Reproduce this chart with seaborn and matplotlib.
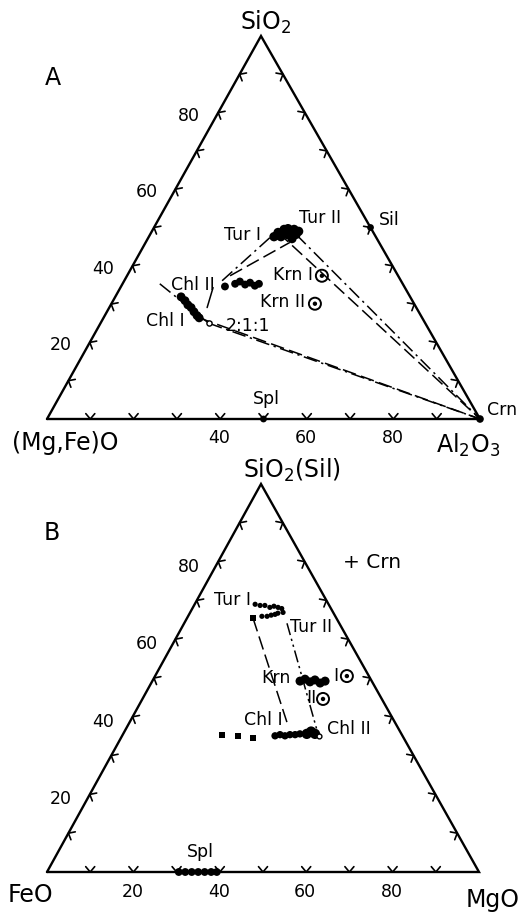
import numpy as np
import matplotlib
matplotlib.use("Agg")
import matplotlib.pyplot as plt
import seaborn as sns

sns.set_theme(style="white")
plt.rcParams['font.family'] = ['DejaVu Sans']
plt.rcParams['mathtext.fontset'] = 'dejavusans'

# ---------------- Diagram A : SiO2 - (Mg,Fe)O - Al2O3 (values: SiO2 %, Al2O3 %)
turA1_si = [47.6, 48.7, 47.6, 49.5, 48.2, 48.0]
turA1_al = [28.9, 29.3, 30.5, 30.3, 31.6, 29.8]
turA2_si = [49.7, 48.7, 49.5, 48.2, 47.1, 49.0]
turA2_al = [31.1, 32.3, 32.6, 33.7, 33.3, 33.9]
chlA2_si = [34.6, 35.3, 35.9, 35.1, 35.6, 34.8, 35.3]
chlA2_al = [24.0, 26.0, 26.8, 28.4, 29.3, 30.8, 31.5]
chlA1_si = [31.9, 30.9, 29.8, 29.1, 28.0, 27.0, 26.4]
chlA1_al = [15.2, 16.6, 17.8, 18.9, 20.1, 21.3, 22.1]
krnA_si = [37.4, 30.1]
krnA_al = [45.0, 47.0]
r211_si, r211_al = [25.0], [25.0]
sil_si, sil_al = [50.0], [50.0]
splA_si, splA_al = [0.0], [50.0]
crn_si, crn_al = [0.0], [100.0]
# tie lines A
tiesA_from_si = [48.2, 48.7, 36.1, 37.4, 26.4, 25.0, 35.3, 34.3]
tiesA_from_al = [33.7, 29.3, 22.6, 23.8, 22.1, 25.0, 8.6, 21.4]
tiesA_to_si = [0.0, 0.0, 47.4, 46.1, 0.0, 0.0, 25.0, 29.1]
tiesA_to_al = [100.0, 100.0, 28.1, 33.3, 100.0, 100.0, 25.0, 22.6]
tiesA_style = ['dashdot', 'dash', 'dashdot', 'dash', 'dash', 'dashdot', 'dashdot', 'solid']

# ---------------- Diagram B : SiO2 - FeO - MgO (values: SiO2 %, MgO %)
turB1_si = [69.0, 68.7, 68.7, 68.2, 68.5, 68.2, 67.9]
turB1_mg = [14.0, 15.3, 16.4, 17.8, 18.6, 19.7, 20.7]
turB2_si = [65.9, 65.9, 66.2, 66.4, 66.7, 66.9]
turB2_mg = [17.1, 18.3, 19.1, 19.9, 20.4, 21.5]
turB_sq_si, turB_sq_mg = [65.4], [15.3]
krnB_si = [49.2, 49.7, 49.0, 49.5, 48.7, 49.2]
krnB_mg = [34.2, 35.1, 36.6, 37.5, 39.1, 40.0]
krnB_circ_si = [50.5, 44.6]
krnB_circ_mg = [44.4, 41.8]
chlB_sq_si = [35.4, 35.1, 34.6]
chlB_sq_mg = [23.0, 26.8, 30.5]
chlB1_si = [35.1, 35.4, 35.1, 35.4, 35.4, 35.6]
chlB1_mg = [35.4, 36.4, 37.7, 38.7, 39.9, 40.9]
chlB2_si = [35.6, 36.2, 35.6]
chlB2_mg = [42.5, 43.2, 44.4]
chlB_open_si, chlB_open_mg = [35.1], [45.6]
splB_si = [0, 0, 0, 0, 0, 0, 0]
splB_mg = [30.5, 32.0, 33.5, 35.0, 36.5, 38.0, 39.3]
tiesB_from_si = [65.4, 64.1]
tiesB_from_mg = [15.3, 23.8]
tiesB_to_si = [38.5, 36.4]
tiesB_to_mg = [36.5, 44.5]
tiesB_style = ['dash', 'dashdotdot']

left_labels = [20, 40, 60, 80]
bottomA_labels = [40, 60, 80]
bottomB_labels = [20, 40, 60, 80]

# ---------------- layout (pixel frame)
LA, RA, TA = (47, 419), (480, 419), (261, 36)
LB, RB, TB = (47, 872), (479, 872), (261, 484)

fig = plt.figure(figsize=(5.21, 9.13), dpi=100)
ax = fig.add_axes([0, 0, 1, 1])
ax.set_xlim(0, 521)
ax.set_ylim(913, 0)
ax.axis('off')


def tern(top, right, L, R, T):
    t = np.asarray(top, float) / 100.0
    r = np.asarray(right, float) / 100.0
    x = L[0] + r * (R[0] - L[0]) + t * (T[0] - L[0])
    y = L[1] + r * (R[1] - L[1]) + t * (T[1] - L[1])
    return x, y


styles = {'solid': '-', 'dash': (0, (9, 3.5)), 'dashdot': (0, (9, 3, 1.5, 3)),
          'dashdotdot': (0, (8, 2.5, 1.5, 2.5, 1.5, 2.5))}


def frame(L, R, T):
    xs = [L[0], R[0], T[0], L[0]]
    ys = [L[1], R[1], T[1], L[1]]
    ax.plot(xs, ys, color='black', lw=1.7, solid_joinstyle='miter', zorder=3)
    for P0, P1, other in [(L, R, T), (R, T, L), (T, L, R)]:
        P0 = np.array(P0, float); P1 = np.array(P1, float); O = np.array(other, float)
        tvec = (P1 - P0) / np.linalg.norm(P1 - P0)
        n = np.array([-tvec[1], tvec[0]])
        if np.dot(O - P0, n) < 0:
            n = -n
        a = np.deg2rad(40); ln = 7.0
        for f in np.arange(1, 10) / 10:
            p = P0 + f * (P1 - P0)
            a1 = p + ln * (np.cos(a) * n + np.sin(a) * tvec)
            a2 = p + ln * (np.cos(a) * n - np.sin(a) * tvec)
            ax.plot([a1[0], p[0], a2[0]], [a1[1], p[1], a2[1]], color='black', lw=1.2, zorder=3)


def pts(top, right, L, R, T, s=14, marker='o', fc='black', ec='none', lw=0.0, z=5):
    x, y = tern(top, right, L, R, T)
    sns.scatterplot(x=x, y=y, ax=ax, s=s, marker=marker, color=fc if fc != 'none' else 'black',
                    facecolor=fc, edgecolor=ec, linewidth=lw, legend=False, zorder=z)


def ties(fs, fr, ts, tr, st, L, R, T):
    for a, b, c, d, s in zip(fs, fr, ts, tr, st):
        x, y = tern([a, c], [b, d], L, R, T)
        ax.plot(x, y, color='black', lw=1.1, linestyle=styles[s], zorder=2)


def txt(x, y, s, size=12.5, ha='center', va='center'):
    ax.text(x, y, s, fontsize=size, ha=ha, va=va, color='black', zorder=6)


# ---------------- Diagram A
frame(LA, RA, TA)
ties(tiesA_from_si, tiesA_from_al, tiesA_to_si, tiesA_to_al, tiesA_style, LA, RA, TA)
pts(turA1_si, turA1_al, LA, RA, TA, s=45)
pts(turA2_si, turA2_al, LA, RA, TA, s=45)
pts(chlA2_si, chlA2_al, LA, RA, TA, s=32)
pts(chlA1_si, chlA1_al, LA, RA, TA, s=40)
pts(krnA_si, krnA_al, LA, RA, TA, s=75, fc='none', ec='black', lw=1.4)
pts(krnA_si, krnA_al, LA, RA, TA, s=10)
pts(r211_si, r211_al, LA, RA, TA, s=14, fc='white', ec='black', lw=1.0)
pts(sil_si, sil_al, LA, RA, TA, s=24)
pts(splA_si, splA_al, LA, RA, TA, s=24)
pts(crn_si, crn_al, LA, RA, TA, s=30)

for v in left_labels:
    x, y = tern([v], [0], LA, RA, TA)
    txt(x[0] - 29, y[0] + 3, str(v))
for v in bottomA_labels:
    x, y = tern([0], [v], LA, RA, TA)
    txt(x[0] - 1, y[0] + 19, str(v))

txt(266, 22, r'SiO$_2$', size=17)
txt(53, 78, 'A', size=17)
txt(65, 443, '(Mg,Fe)O', size=17)
txt(468, 445, r'Al$_2$O$_3$', size=17)
txt(487, 410, 'Crn', size=12.5, ha='left')
txt(266, 399, 'Spl', size=12.5)
txt(379, 220, 'Sil', size=12.5, ha='left')
txt(243, 235, 'Tur I')
txt(320, 218, 'Tur II')
txt(293, 275, 'Krn I')
txt(283, 302, 'Krn II')
txt(193, 285, 'Chl II')
txt(165, 321, 'Chl I')
txt(248, 326, '2:1:1')

# ---------------- Diagram B
frame(LB, RB, TB)
ties(tiesB_from_si, tiesB_from_mg, tiesB_to_si, tiesB_to_mg, tiesB_style, LB, RB, TB)
pts(turB1_si, turB1_mg, LB, RB, TB, s=14)
pts(turB2_si, turB2_mg, LB, RB, TB, s=14)
pts(turB_sq_si, turB_sq_mg, LB, RB, TB, s=20, marker='s')
pts(krnB_si, krnB_mg, LB, RB, TB, s=42)
pts(krnB_circ_si, krnB_circ_mg, LB, RB, TB, s=75, fc='none', ec='black', lw=1.4)
pts(krnB_circ_si, krnB_circ_mg, LB, RB, TB, s=10)
pts(chlB_sq_si, chlB_sq_mg, LB, RB, TB, s=18, marker='s')
pts(chlB1_si, chlB1_mg, LB, RB, TB, s=28)
pts(chlB2_si, chlB2_mg, LB, RB, TB, s=55)
pts(chlB_open_si, chlB_open_mg, LB, RB, TB, s=12, fc='white', ec='black', lw=1.0)
pts(splB_si, splB_mg, LB, RB, TB, s=32)

for v in left_labels:
    x, y = tern([v], [0], LB, RB, TB)
    txt(x[0] - 29, y[0] + 5, str(v))
for v in bottomB_labels:
    x, y = tern([0], [v], LB, RB, TB)
    txt(x[0] - 1, y[0] + 20, str(v))

txt(292, 470, r'SiO$_2$(Sil)', size=17)
txt(52, 533, 'B', size=17)
txt(30, 895, 'FeO', size=17)
txt(493, 900, 'MgO', size=17)
txt(372, 563, '+ Crn', size=14.5)
txt(200, 852, 'Spl')
txt(233, 600, 'Tur I')
txt(311, 627, 'Tur II')
txt(276, 678, 'Krn')
txt(336, 676, 'I')
txt(311, 698, 'II')
txt(263, 720, 'Chl I')
txt(349, 729, 'Chl II')

fig.savefig('out.png', dpi=100, facecolor='white')
